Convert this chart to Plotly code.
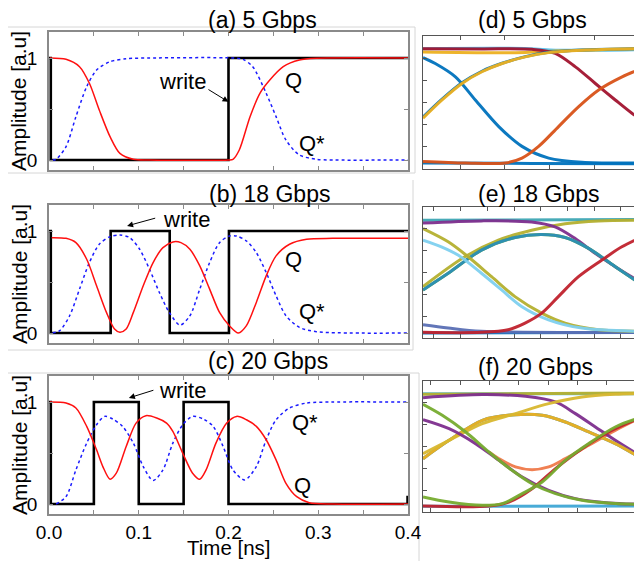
import plotly.graph_objects as go

# The page body has an 8px default margin, so the figure is drawn 8px in from the window corner.
OFF = 8
W, H = 642 - OFF, 561 - OFF
FONT = "Liberation Sans, Arial, sans-serif"

# ---------------- left panels: time-domain waveforms ----------------
x_tick_vals = [0.0, 0.05, 0.1, 0.15, 0.2, 0.25, 0.3, 0.35, 0.4]
x_tick_text = ["0.0", "", "0.1", "", "0.2", "", "0.3", "", "0.4"]
y_tick_vals = [0, 0.5, 1]
y_tick_text = ["0", "", "1"]

# (a) 5 Gbps
a_write_t = [0.0, 0.002, 0.2, 0.4]
a_write_y = [1, 0, 1, 1]
a_q_t = [0.001, 0.019, 0.034, 0.045, 0.056, 0.068, 0.079, 0.094, 0.112, 0.2, 0.205, 0.212,
         0.224, 0.235, 0.246, 0.261, 0.279, 0.298, 0.4]
a_q_y = [1.0, 0.987, 0.915, 0.752, 0.49, 0.229, 0.065, 0.007, 0.0, 0.0, 0.007, 0.098,
         0.425, 0.654, 0.784, 0.915, 0.98, 0.997, 1.0]
a_qs_t = [0.004, 0.008, 0.019, 0.030, 0.042, 0.053, 0.068, 0.086, 0.112, 0.205, 0.216, 0.227,
          0.242, 0.253, 0.264, 0.279, 0.298, 0.316, 0.4]
a_qs_y = [0.0, 0.007, 0.131, 0.425, 0.719, 0.882, 0.964, 0.993, 1.0, 1.0, 0.987, 0.915,
          0.654, 0.425, 0.196, 0.049, 0.007, 0.0, 0.0]

# (b) 18 Gbps
b_write_t = [0.0, 0.002, 0.0687, 0.1345, 0.2005, 0.4]
b_write_y = [1, 0, 1, 0, 1, 1]
b_q_t = [0.003, 0.019, 0.030, 0.042, 0.053, 0.064, 0.073, 0.079, 0.086, 0.094, 0.105, 0.116,
         0.127, 0.138, 0.147, 0.157, 0.168, 0.179, 0.190, 0.201, 0.211, 0.220, 0.231, 0.242,
         0.253, 0.268, 0.287, 0.316, 0.4]
b_q_y = [0.935, 0.928, 0.886, 0.723, 0.463, 0.202, 0.039, 0.007, 0.039, 0.202, 0.463, 0.691,
         0.837, 0.893, 0.886, 0.821, 0.658, 0.430, 0.202, 0.072, 0.0, 0.072, 0.300, 0.560,
         0.756, 0.870, 0.919, 0.928, 0.928]
b_qs_t = [0.004, 0.012, 0.023, 0.034, 0.045, 0.056, 0.068, 0.079, 0.090, 0.101, 0.112, 0.123,
          0.134, 0.146, 0.157, 0.168, 0.179, 0.190, 0.201, 0.209, 0.220, 0.231, 0.242, 0.253,
          0.264, 0.279, 0.298, 0.4]
b_qs_y = [0.0, 0.023, 0.169, 0.430, 0.691, 0.870, 0.945, 0.961, 0.935, 0.821, 0.625, 0.397,
          0.202, 0.078, 0.169, 0.430, 0.691, 0.886, 0.951, 0.951, 0.902, 0.788, 0.593, 0.365,
          0.169, 0.055, 0.013, 0.0]

# (c) 20 Gbps
c_write_t = [0.0, 0.002, 0.05, 0.1, 0.15, 0.2, 0.3995]
c_write_y = [1, 0, 1, 0, 1, 0, 0.08]
c_q_t = [0.001, 0.019, 0.030, 0.042, 0.053, 0.060, 0.068, 0.075, 0.086, 0.097, 0.108, 0.120,
         0.131, 0.138, 0.149, 0.160, 0.168, 0.175, 0.186, 0.198, 0.209, 0.220, 0.231, 0.242,
         0.253, 0.264, 0.276, 0.290, 0.316, 0.4]
c_q_y = [1.0, 0.990, 0.941, 0.761, 0.531, 0.367, 0.243, 0.302, 0.564, 0.793, 0.866, 0.843,
         0.793, 0.711, 0.498, 0.302, 0.243, 0.334, 0.597, 0.793, 0.859, 0.826, 0.761, 0.630,
         0.433, 0.203, 0.072, 0.013, 0.0, 0.0]
c_qs_t = [0.008, 0.019, 0.030, 0.042, 0.053, 0.062, 0.071, 0.082, 0.094, 0.105, 0.116, 0.127,
          0.138, 0.149, 0.160, 0.172, 0.183, 0.194, 0.205, 0.218, 0.231, 0.242, 0.253, 0.268,
          0.287, 0.316, 0.4]
c_qs_y = [0.0, 0.072, 0.334, 0.597, 0.777, 0.859, 0.833, 0.761, 0.597, 0.367, 0.230, 0.334,
          0.597, 0.777, 0.859, 0.833, 0.761, 0.564, 0.334, 0.236, 0.367, 0.630, 0.826, 0.941,
          0.990, 1.0, 1.0]

# ---------------- right panels: eye diagrams (normalised units) ----------------
# (d) 5 Gbps
d_bot_x = [0.0, 0.5, 1.0];            d_bot_y = [0.045, 0.042, 0.040]
d_cyan_x = [0.0, 0.483, 0.605, 1.0];  d_cyan_y = [0.905, 0.905, 0.893, 0.898]
d_ytop_x = [0.0, 0.422, 0.605, 1.0];  d_ytop_y = [0.880, 0.875, 0.888, 0.905]
d_red_x = [0.0, 0.269, 0.498, 0.604, 0.696, 0.787, 0.878, 0.954, 1.0]
d_red_y = [0.905, 0.903, 0.900, 0.870, 0.768, 0.643, 0.519, 0.419, 0.369]
d_bfall_x = [0.0, 0.056, 0.148, 0.239, 0.346, 0.452, 0.574, 0.726, 1.0]
d_bfall_y = [0.838, 0.793, 0.693, 0.519, 0.319, 0.170, 0.082, 0.050, 0.045]
d_brise_x = [0.0, 0.087, 0.178, 0.269, 0.361, 0.467, 0.574, 0.726, 1.0]
d_brise_y = [0.390, 0.525, 0.648, 0.735, 0.795, 0.845, 0.877, 0.895, 0.905]
d_yrise_x = [0.0, 0.087, 0.178, 0.269, 0.361, 0.467, 0.574, 0.726, 1.0]
d_yrise_y = [0.382, 0.519, 0.643, 0.731, 0.793, 0.843, 0.875, 0.893, 0.905]
d_orise_x = [0.0, 0.193, 0.376, 0.452, 0.528, 0.619, 0.711, 0.802, 0.909, 1.0]
d_orise_y = [0.057, 0.045, 0.045, 0.082, 0.170, 0.319, 0.469, 0.594, 0.693, 0.756]

# (e) 18 Gbps
e_bot_x = [0.0, 1.0];                 e_bot_y = [0.038, 0.043]
e_cyan_x = [0.0, 1.0];                e_cyan_y = [0.899, 0.904]
e_plow_x = [0.0, 0.115, 0.267, 1.0];  e_plow_y = [0.101, 0.076, 0.051, 0.043]
e_pfall_x = [0.0, 0.267, 0.496, 0.603, 0.695, 0.786, 0.878, 1.0]
e_pfall_y = [0.878, 0.894, 0.886, 0.848, 0.759, 0.646, 0.544, 0.418]
e_hump_x = [0.0, 0.115, 0.267, 0.420, 0.542, 0.649, 0.756, 0.878, 1.0]
e_hump_y = [0.367, 0.494, 0.671, 0.767, 0.790, 0.767, 0.684, 0.544, 0.405]
e_rise_x = [0.0, 0.191, 0.344, 0.496, 0.649, 0.802, 1.0]
e_rise_y = [0.392, 0.620, 0.747, 0.823, 0.873, 0.894, 0.899]
e_ofall_x = [0.0, 0.115, 0.206, 0.313, 0.420, 0.542, 0.649, 0.802, 1.0]
e_ofall_y = [0.835, 0.734, 0.620, 0.468, 0.316, 0.190, 0.114, 0.063, 0.051]
e_lfall_x = [0.0, 0.084, 0.160, 0.267, 0.359, 0.450, 0.573, 0.725, 1.0]
e_lfall_y = [0.747, 0.696, 0.633, 0.494, 0.367, 0.241, 0.139, 0.076, 0.051]
e_rrise_x = [0.0, 0.267, 0.389, 0.466, 0.542, 0.618, 0.710, 0.817, 0.908, 1.0]
e_rrise_y = [0.043, 0.043, 0.063, 0.114, 0.190, 0.316, 0.468, 0.595, 0.696, 0.772]

# (f) 20 Gbps
f_bot_x = [0.0, 1.0];                 f_bot_y = [0.043, 0.046]
f_cyan_x = [0.0, 1.0];                f_cyan_y = [0.903, 0.903]
f_otop_x = [0.0, 1.0];                f_otop_y = [0.898, 0.908]
f_pfall_x = [0.0, 0.271, 0.468, 0.605, 0.696, 0.787, 0.878, 1.0]
f_pfall_y = [0.873, 0.896, 0.883, 0.840, 0.751, 0.649, 0.547, 0.420]
f_yrise_x = [0.0, 0.119, 0.271, 0.422, 0.574, 0.726, 0.878, 1.0]
f_yrise_y = [0.445, 0.547, 0.674, 0.751, 0.827, 0.878, 0.898, 0.903]
f_hump_x = [0.0, 0.119, 0.271, 0.422, 0.544, 0.650, 0.757, 0.878, 1.0]
f_hump_y = [0.407, 0.547, 0.700, 0.743, 0.738, 0.687, 0.611, 0.522, 0.407]
f_gfall_x = [0.0, 0.088, 0.195, 0.301, 0.407, 0.498, 0.605, 0.726, 0.878, 1.0]
f_gfall_y = [0.822, 0.738, 0.611, 0.458, 0.318, 0.216, 0.140, 0.089, 0.064, 0.059]
f_odip_x = [0.301, 0.347, 0.422, 0.498, 0.574, 0.650, 0.757, 0.878, 1.0]
f_odip_y = [0.458, 0.407, 0.344, 0.323, 0.344, 0.407, 0.509, 0.623, 0.725]
f_pfall2_x = [0.0, 0.119, 0.240, 0.347, 0.453, 0.574, 0.696, 0.848, 1.0]
f_pfall2_y = [0.705, 0.636, 0.522, 0.394, 0.267, 0.165, 0.102, 0.069, 0.059]
f_grise_x = [0.0, 0.119, 0.271, 0.362, 0.453, 0.544, 0.650, 0.757, 0.878, 1.0]
f_grise_y = [0.115, 0.076, 0.051, 0.064, 0.140, 0.229, 0.394, 0.522, 0.649, 0.725]
f_rrise_x = [0.0, 0.301, 0.392, 0.498, 0.605, 0.726, 0.848, 1.0]
f_rrise_y = [0.046, 0.046, 0.076, 0.178, 0.331, 0.483, 0.611, 0.725]

BLUE, ORANGE, YELLOW = "#0072BD", "#D95319", "#EDB120"
PURPLE, GREEN, CYAN, DRED = "#7E2F8E", "#77AC30", "#4DBEEE", "#A2142F"
OLIVE = "#B5B030"

eye_d = [(d_bot_x, d_bot_y, BLUE), (d_cyan_x, d_cyan_y, CYAN), (d_ytop_x, d_ytop_y, YELLOW),
         (d_red_x, d_red_y, DRED), (d_bfall_x, d_bfall_y, BLUE), (d_brise_x, d_brise_y, BLUE),
         (d_yrise_x, d_yrise_y, YELLOW), (d_orise_x, d_orise_y, ORANGE)]
eye_e = [(e_bot_x, e_bot_y, BLUE), (e_cyan_x, e_cyan_y, "#3FA7B5"), (e_plow_x, e_plow_y, "#5A6FB5"),
         (e_rise_x, e_rise_y, OLIVE), (e_pfall_x, e_pfall_y, PURPLE), (e_hump_x, e_hump_y, GREEN),
         (e_hump_x, e_hump_y, "#2A8FB8"), (e_ofall_x, e_ofall_y, OLIVE), (e_lfall_x, e_lfall_y, "#7FD0F0"),
         (e_rrise_x, e_rrise_y, "#C0222E")]
eye_f = [(f_bot_x, f_bot_y, "#3FA7D5"), (f_cyan_x, f_cyan_y, CYAN), (f_otop_x, f_otop_y, OLIVE),
         (f_odip_x, f_odip_y, "#F07A4A"), (f_pfall_x, f_pfall_y, PURPLE), (f_hump_x, f_hump_y, "#2A8FB8"),
         (f_hump_x, f_hump_y, YELLOW), (f_yrise_x, f_yrise_y, "#D9B830"), (f_pfall2_x, f_pfall2_y, PURPLE),
         (f_gfall_x, f_gfall_y, GREEN), (f_rrise_x, f_rrise_y, "#C0222E"), (f_grise_x, f_grise_y, GREEN)]

fig = go.Figure()

def px2paper_x(px):
    return (px - OFF) / W

def px2paper_y(py):
    return 1 - (py - OFF) / H

left_panels = [
    ("", a_write_t, a_write_y, a_q_t, a_q_y, a_qs_t, a_qs_y),
    ("2", b_write_t, b_write_y, b_q_t, b_q_y, b_qs_t, b_qs_y),
    ("3", c_write_t, c_write_y, c_q_t, c_q_y, c_qs_t, c_qs_y),
]
for sfx, wt, wy, qt, qy, st, sy in left_panels:
    xa, ya = "x" + sfx, "y" + sfx
    fig.add_trace(go.Scatter(x=wt, y=wy, xaxis=xa, yaxis=ya, mode="lines", line_shape="hv",
                             line=dict(color="black", width=2.6), showlegend=False, hoverinfo="skip"))
    fig.add_trace(go.Scatter(x=st, y=sy, xaxis=xa, yaxis=ya, mode="lines", line_shape="spline",
                             line=dict(color="#1a1aff", width=1.5, dash="dot", smoothing=0.8),
                             showlegend=False, hoverinfo="skip"))
    fig.add_trace(go.Scatter(x=qt, y=qy, xaxis=xa, yaxis=ya, mode="lines", line_shape="spline",
                             line=dict(color="#ff1010", width=1.5, smoothing=0.8),
                             showlegend=False, hoverinfo="skip"))

for sfx, curves in (("4", eye_d), ("5", eye_e), ("6", eye_f)):
    for cx, cy, col in curves:
        fig.add_trace(go.Scatter(x=cx, y=cy, xaxis="x" + sfx, yaxis="y" + sfx, mode="lines",
                                 line_shape="spline", line=dict(color=col, width=3, smoothing=0.9),
                                 opacity=0.95, showlegend=False, hoverinfo="skip"))

# axes layout
LX = [px2paper_x(49), px2paper_x(408)]
left_y_doms = [(32, 170), (205, 343), (376, 514)]
RX = [px2paper_x(423), 1.0]
right_y_doms = [(36, 169), (207, 338), (381, 512)]
right_xticks = [(0.169, 0.204), (0.05, 0.122), (0.035, 0.134)]

lay = dict(width=W, height=H, margin=dict(l=0, r=0, t=0, b=0, autoexpand=False),
           paper_bgcolor="white", plot_bgcolor="white",
           font=dict(family=FONT, color="black"), showlegend=False)

frame = "#8a8a8a"
for i, (top, bot) in enumerate(left_y_doms):
    n = "" if i == 0 else str(i + 1)
    lay["xaxis" + n] = dict(domain=LX, range=[0, 0.4], anchor="y" + n, showline=True, linecolor=frame,
                            linewidth=1.5, mirror="allticks", ticks="inside", ticklen=4, tickcolor=frame,
                            tickvals=x_tick_vals, ticktext=x_tick_text if i == 2 else [""] * 9,
                            showgrid=False, zeroline=False, tickfont=dict(size=19, family=FONT),
                            automargin=False)
    lay["yaxis" + n] = dict(domain=[px2paper_y(bot), px2paper_y(top)], range=[-0.098, 1.255],
                            anchor="x" + n, showline=True, linecolor=frame, linewidth=1.5,
                            mirror="allticks", ticks="inside", ticklen=4, tickcolor=frame,
                            tickvals=y_tick_vals, ticktext=y_tick_text, showgrid=False, zeroline=False,
                            tickfont=dict(size=19, family=FONT), ticklabelstandoff=6, automargin=False)

eframe = "#555555"
for i, (top, bot) in enumerate(right_y_doms):
    n = str(i + 4)
    t0, dt = right_xticks[i]
    lay["xaxis" + n] = dict(domain=RX, range=[0, 1], anchor="y" + n, showline=True, linecolor=eframe,
                            linewidth=1, mirror="allticks", ticks="inside", ticklen=4, tickcolor=eframe,
                            tick0=t0, dtick=dt, showticklabels=False, showgrid=False, zeroline=False,
                            automargin=False)
    lay["yaxis" + n] = dict(domain=[px2paper_y(bot), px2paper_y(top)], range=[0, 1], anchor="x" + n,
                            showline=True, linecolor=eframe, linewidth=1, mirror=False, ticks="inside",
                            ticklen=4, tickcolor=eframe, tick0=0, dtick=1 / 6, showticklabels=False,
                            showgrid=False, zeroline=False, automargin=False)

anns = []
def txt(text, xpx, ypx, size, angle=0):
    anns.append(dict(text=text, x=px2paper_x(xpx), y=px2paper_y(ypx), xref="paper", yref="paper",
                     showarrow=False, textangle=angle, xanchor="center", yanchor="middle",
                     borderpad=0, font=dict(size=size, family=FONT, color="black")))

txt("(a) 5 Gbps", 262, 20, 23)
txt("(b) 18 Gbps", 269, 194, 23)
txt("(c) 20 Gbps", 268, 361, 23)
txt("(d) 5 Gbps", 532, 20, 23)
txt("(e) 18 Gbps", 538, 194, 23)
txt("(f) 20 Gbps", 535, 367, 23)
for top, bot in left_y_doms:
    txt("Amplitude [a.u]", 19, (top + bot) / 2, 21, -90)
txt("Time [ns]", 229, 547, 20.5)

def dtxt(text, xa, ya, t, y):
    anns.append(dict(text=text, x=t, y=y, xref=xa, yref=ya, showarrow=False,
                     xanchor="center", yanchor="middle", font=dict(size=22, family=FONT, color="black")))

def arrow(xa, ya, t0, y0, t1, y1):
    anns.append(dict(text="", x=t1, y=y1, ax=t0, ay=y0, xref=xa, yref=ya, axref=xa, ayref=ya,
                     showarrow=True, arrowhead=2, arrowsize=1.2, arrowwidth=1, arrowcolor="black"))

dtxt("write", "x", "y", 0.149, 0.768); arrow("x", "y", 0.176, 0.70, 0.2, 0.57)
dtxt("Q", "x", "y", 0.272, 0.784); dtxt("Q*", "x", "y", 0.293, 0.16)
dtxt("write", "x2", "y2", 0.153, 1.114); arrow("x2", "y2", 0.120, 1.13, 0.087, 1.05)
dtxt("Q", "x2", "y2", 0.272, 0.723); dtxt("Q*", "x2", "y2", 0.293, 0.215)
dtxt("write", "x3", "y3", 0.149, 1.115); arrow("x3", "y3", 0.118, 1.12, 0.089, 1.04)
dtxt("Q*", "x3", "y3", 0.285, 0.80); dtxt("Q", "x3", "y3", 0.283, 0.18)
lay["annotations"] = anns

light = "#d6d6d6"
def seg(x0, y0, x1, y1):
    return dict(type="line", xref="paper", yref="paper", x0=px2paper_x(x0), y0=px2paper_y(y0),
                x1=px2paper_x(x1), y1=px2paper_y(y1), line=dict(color=light, width=1), layer="below")

lay["shapes"] = [seg(8, 27, 415, 27), seg(415, 27, 415, 173), seg(8, 173, 415, 173),
                 seg(413, 180, 413, 350), seg(8, 350, 413, 350),
                 seg(8, 373, 419, 373), seg(419, 373, 419, 561)]

fig.update_layout(**lay)
fig.write_html("out.html")
